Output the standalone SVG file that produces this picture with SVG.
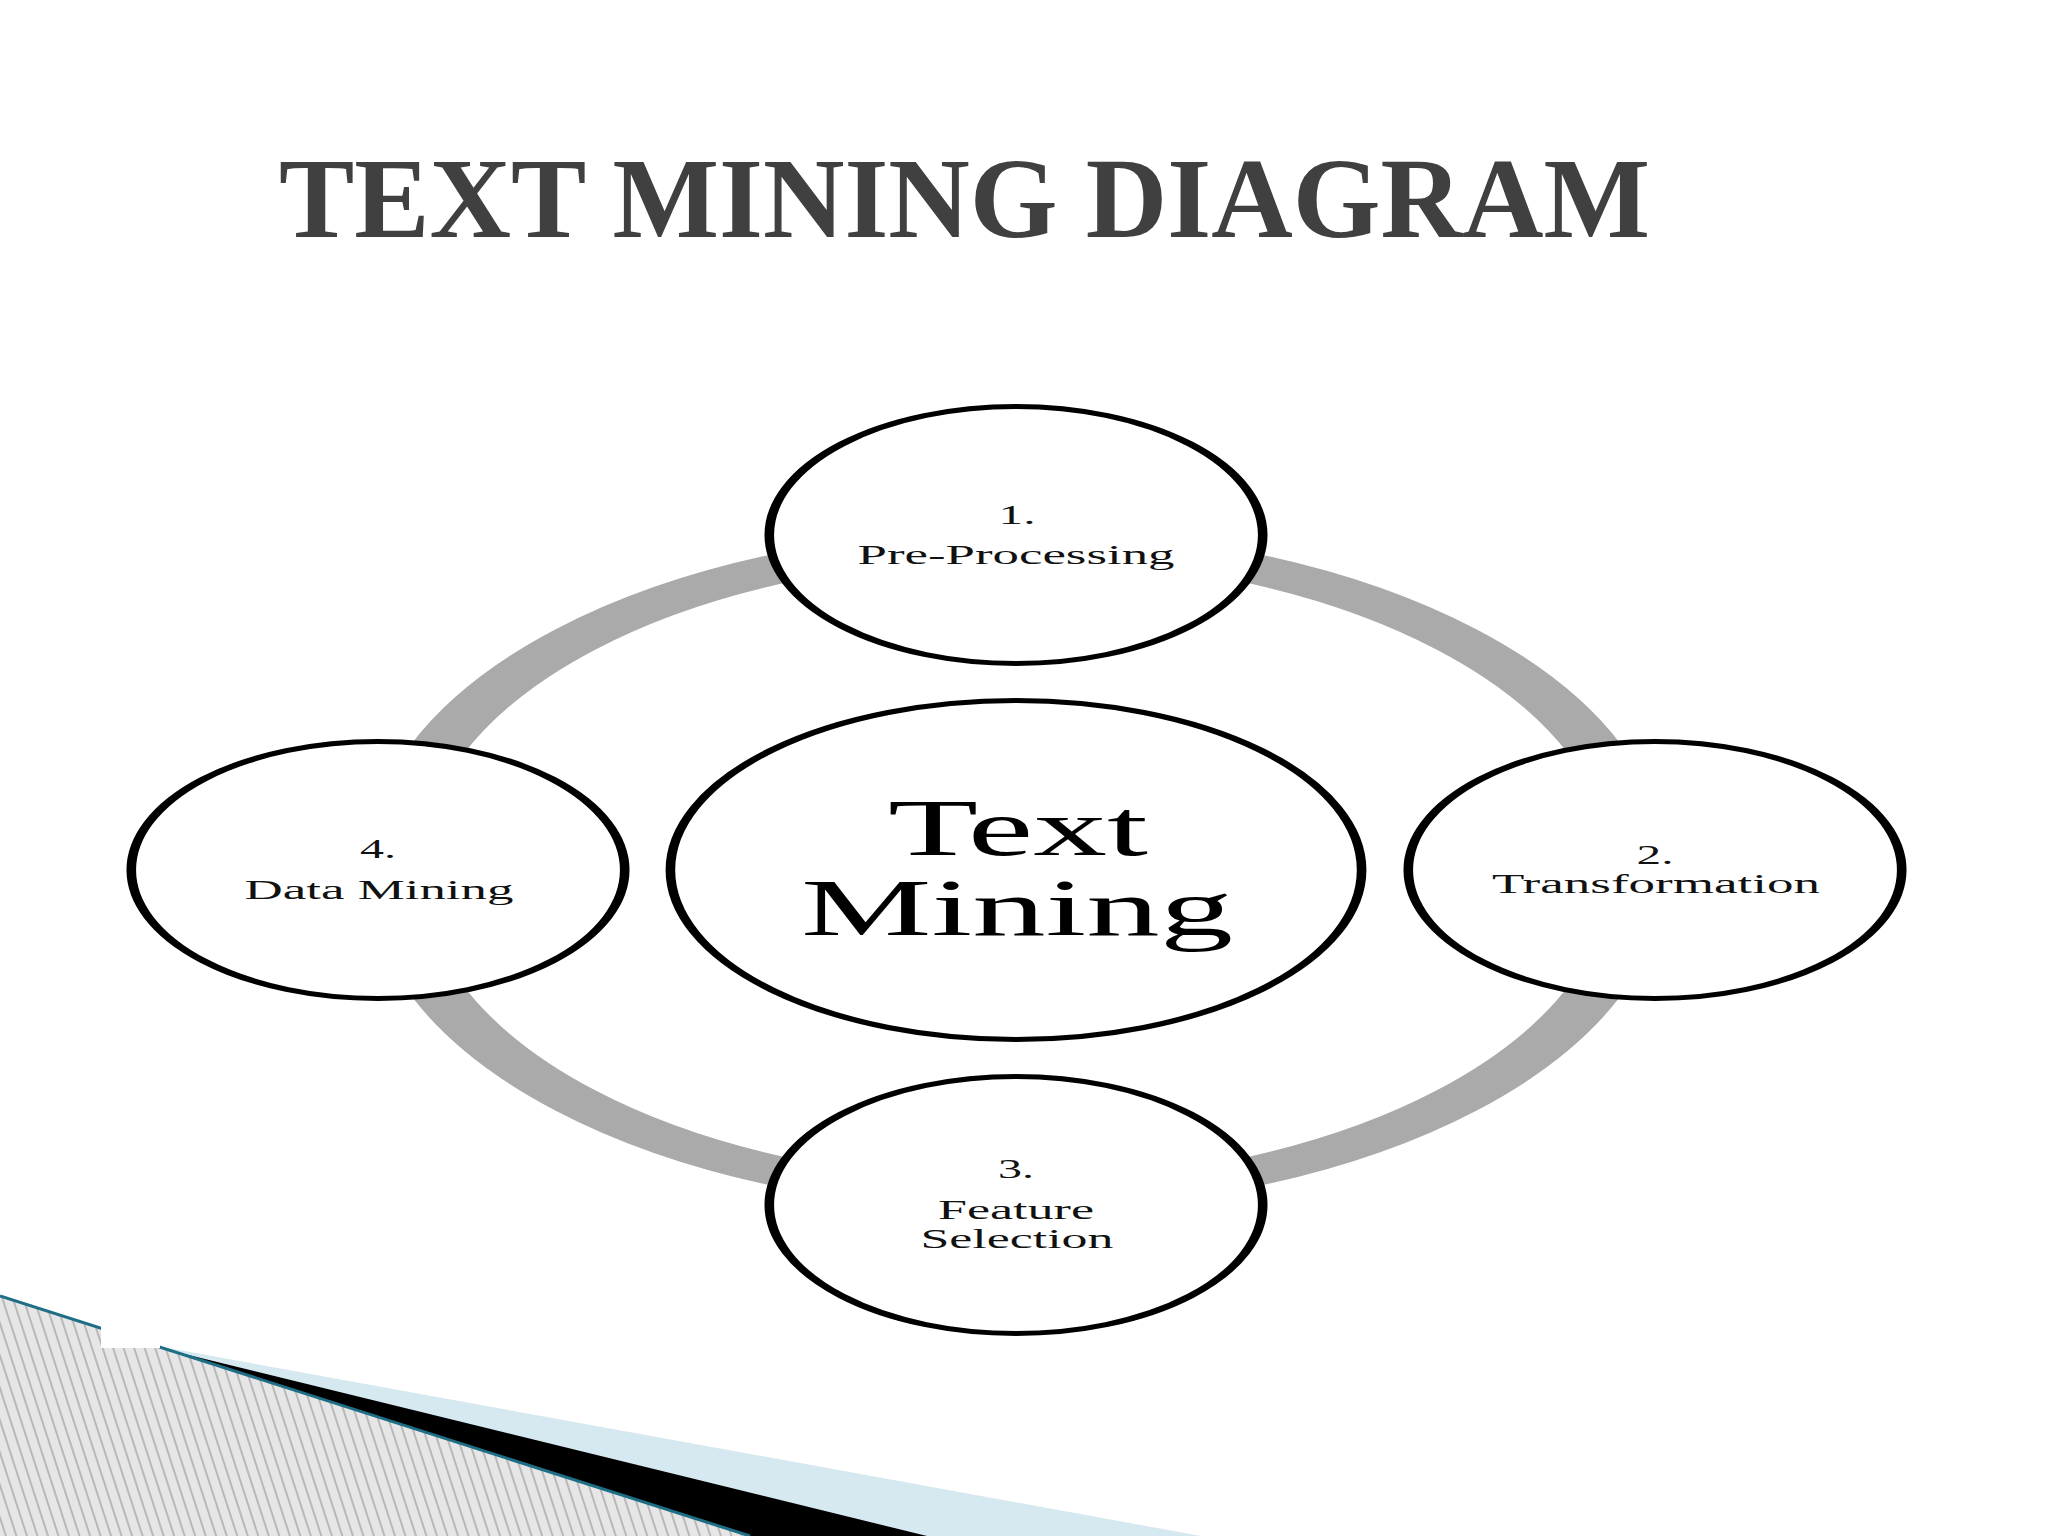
<svg xmlns="http://www.w3.org/2000/svg" width="2048" height="1536" viewBox="0 0 2048 1536">
<style>
.node-shape{fill:#ffffff;stroke:#000000;stroke-width:5}
.ring{fill:none;stroke:#aaaaaa;stroke-width:29}
.lbl{font-family:"Liberation Serif","Times New Roman",serif;font-size:28px;fill:#111111;text-anchor:middle}
.big{font-family:"Liberation Serif","Times New Roman",serif;font-size:80px;fill:#000000;text-anchor:middle}
.title{font-family:"Liberation Serif","Times New Roman",serif;font-size:114px;font-weight:bold;fill:#404040}
</style>
<defs>
<pattern id="hatch" patternUnits="userSpaceOnUse" width="10" height="10" patternTransform="rotate(-18)">
<rect x="0" y="0" width="10" height="10" fill="#e6e6e6"/>
<line x1="1" y1="0" x2="1" y2="10" stroke="#9a9a9a" stroke-width="1.2"/>
</pattern>
</defs>
<rect x="0" y="0" width="2048" height="1536" fill="#ffffff"/>

<g id="corner-decoration">
<polygon points="157,1346 1201,1536 157,1536" fill="#d6e8f0"/>
<polygon points="160,1348 927,1536 160,1536" fill="#000000"/>
<polygon points="0,1296 750,1536 0,1536" fill="url(#hatch)"/>
<line x1="0" y1="1296" x2="750" y2="1536" stroke="#1e6e86" stroke-width="3"/>
<rect x="101" y="1280" width="59" height="68" fill="#ffffff"/>
</g>

<text id="title" class="title" x="279" y="237" textLength="1371" lengthAdjust="spacingAndGlyphs">TEXT MINING DIAGRAM</text>

<g id="connectors">
<ellipse class="ring" cx="0" cy="0" rx="324.5" ry="326" transform="translate(1016,870) scale(1.92,1)"/>
</g>

<g id="node-center">
<ellipse class="node-shape" cx="0" cy="0" rx="180" ry="169.5" transform="translate(1016,870) scale(1.92,1)"/>
<text class="big" x="1018" y="855" textLength="260" lengthAdjust="spacingAndGlyphs">Text</text>
<text class="big" x="1017" y="935" textLength="432" lengthAdjust="spacingAndGlyphs">Mining</text>
</g>

<g id="node-1">
<circle class="node-shape" cx="0" cy="0" r="128.5" transform="translate(1016,535) scale(1.92,1)"/>
<text class="lbl" x="1017" y="524" textLength="37" lengthAdjust="spacingAndGlyphs">1.</text>
<text class="lbl" x="1016" y="564" textLength="317" lengthAdjust="spacingAndGlyphs">Pre-Processing</text>
</g>

<g id="node-2">
<circle class="node-shape" cx="0" cy="0" r="128.5" transform="translate(1655,870) scale(1.92,1)"/>
<text class="lbl" x="1655" y="864" textLength="37" lengthAdjust="spacingAndGlyphs">2.</text>
<text class="lbl" x="1656" y="893" textLength="328" lengthAdjust="spacingAndGlyphs">Transformation</text>
</g>

<g id="node-3">
<circle class="node-shape" cx="0" cy="0" r="128.5" transform="translate(1016,1205) scale(1.92,1)"/>
<text class="lbl" x="1016" y="1178" textLength="36" lengthAdjust="spacingAndGlyphs">3.</text>
<text class="lbl" x="1016" y="1219" textLength="156" lengthAdjust="spacingAndGlyphs">Feature</text>
<text class="lbl" x="1017" y="1248" textLength="193" lengthAdjust="spacingAndGlyphs">Selection</text>
</g>

<g id="node-4">
<circle class="node-shape" cx="0" cy="0" r="128.5" transform="translate(378,870) scale(1.92,1)"/>
<text class="lbl" x="378" y="858" textLength="36" lengthAdjust="spacingAndGlyphs">4.</text>
<text class="lbl" x="379" y="899" textLength="269" lengthAdjust="spacingAndGlyphs">Data Mining</text>
</g>
</svg>
